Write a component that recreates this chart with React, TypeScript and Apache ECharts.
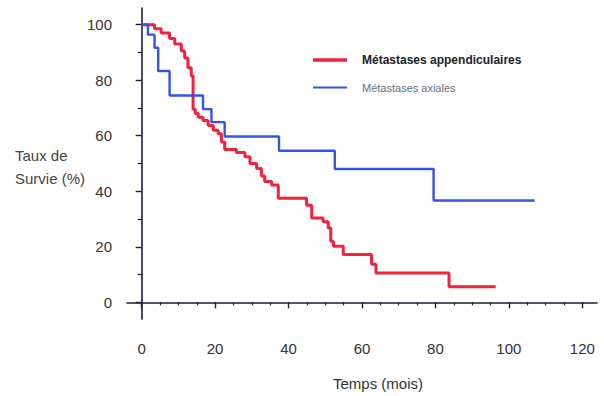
import React, { useEffect, useRef } from "react";
import * as echarts from "echarts";

// Kaplan-Meier steps: [time (mois), survival (%)] — value after each event
const appendiculaires: [number, number][] = [
  [0, 100], [3.5, 98.5], [5.3, 97], [7.6, 95], [9, 93], [10.8, 90.5], [11.7, 88],
  [12.6, 84.5], [13.5, 81.5], [14, 69.5], [14.6, 68], [15.4, 66.7], [16.7, 65.5],
  [18.1, 63.7], [19.5, 62], [20.8, 60.7], [21.7, 57.7], [22.6, 55], [25.8, 54],
  [28.1, 52.4], [29.5, 50], [31.3, 48.2], [32.6, 45.5], [33.5, 43.5], [35.4, 42.3],
  [37.2, 37.5], [44.9, 35], [46.3, 30.4], [49.4, 29], [50.8, 26.8], [51.5, 22],
  [52.2, 20.2], [54.9, 17.2], [62.6, 13.7], [63.8, 10.6], [83.7, 5.6], [96.4, 5.6],
];
const axiales: [number, number][] = [
  [0, 100], [1.7, 96.4], [3.5, 91.7], [4.5, 83.3], [7.6, 74.5], [16.7, 69.6],
  [19, 64.9], [22.6, 59.7], [37.4, 54.6], [52.6, 48], [79.5, 36.7], [107, 36.7],
];
const seriesNames = ["Métastases appendiculaires", "Métastases axiales"];
const xTicks = [0, 20, 40, 60, 80, 100, 120];
const xMinorTicks = [5, 10, 15, 25, 30, 35, 45, 50, 55, 65, 70, 75, 85, 90, 95, 105, 110, 115];
const yTicks = [0, 20, 40, 60, 80, 100];
const yMinorTicks = [10, 30, 50, 70, 90];
const xTitle = "Temps (mois)";
const yTitle = "Taux de\nSurvie (%)";

const FONT = "'Liberation Sans', Arial, sans-serif";
const AXIS_COLOR = "#1d1d38";
const RED = "#f0223c";
const BLUE = "#3553ea";

export default function App() {
  const ref = useRef<HTMLDivElement>(null);
  useEffect(() => {
    if (!ref.current) return;
    const chart = echarts.init(ref.current, null, { renderer: "svg" });
    const grid = { left: 127, right: 7, top: 8, bottom: 74 };
    const baseX = {
      type: "value" as const,
      min: -4,
      max: 124,
      splitLine: { show: false },
    };
    const baseY = {
      type: "value" as const,
      min: -6,
      max: 106,
      splitLine: { show: false },
    };
    chart.setOption({
      animation: false,
      backgroundColor: "#ffffff",
      textStyle: { fontFamily: FONT },
      grid,
      legend: {
        orient: "vertical",
        left: 308,
        top: 49,
        itemWidth: 34,
        itemHeight: 14,
        itemGap: 16,
        data: [
          {
            name: seriesNames[0],
            icon: "path://M0,0H34V3.5H0Z",
            itemStyle: { color: RED },
            textStyle: { fontSize: 12, fontWeight: "bold", color: "#222", padding: [0, 0, 0, 10] },
          },
          {
            name: seriesNames[1],
            icon: "path://M0,0H34V2.2H0Z",
            itemStyle: { color: BLUE },
            textStyle: { fontSize: 11, color: "#6a6f80", padding: [0, 0, 0, 10] },
          },
        ],
      },
      xAxis: [
        {
          ...baseX,
          name: xTitle,
          nameLocation: "middle",
          nameGap: 57,
          nameTextStyle: { fontSize: 15, color: "#333", padding: [0, 0, 0, 32], fontFamily: FONT },
          axisLine: { show: true, lineStyle: { color: AXIS_COLOR, width: 1.6 } },
          axisTick: { show: true, customValues: xTicks, length: 6, lineStyle: { color: AXIS_COLOR, width: 1.4 } },
          axisLabel: { customValues: xTicks, margin: 22, fontSize: 15, color: "#333", fontFamily: FONT },
        },
        {
          ...baseX,
          axisLine: { show: false },
          axisTick: { show: true, customValues: xMinorTicks, length: 3, lineStyle: { color: AXIS_COLOR, width: 1.2 } },
          axisLabel: { show: false },
          position: "bottom",
        },
      ],
      yAxis: [
        {
          ...baseY,
          axisLine: { show: true, lineStyle: { color: AXIS_COLOR, width: 1.6 } },
          axisTick: { show: true, customValues: yTicks, length: 6, lineStyle: { color: AXIS_COLOR, width: 1.4 } },
          axisLabel: { customValues: yTicks, margin: 15, fontSize: 15, color: "#333", fontFamily: FONT },
        },
        {
          ...baseY,
          position: "left",
          axisLine: { show: false },
          axisTick: { show: true, customValues: yMinorTicks, length: 4, lineStyle: { color: AXIS_COLOR, width: 1.2 } },
          axisLabel: { show: false },
        },
      ],
      graphic: [
        {
          type: "text",
          left: 15,
          top: 144,
          style: {
            text: yTitle,
            fontSize: 15,
            lineHeight: 23,
            fill: "#444",
            fontFamily: FONT,
          },
        },
      ],
      series: [
        {
          name: seriesNames[0],
          type: "line",
          step: "end",
          data: appendiculaires,
          symbol: "none",
          lineStyle: { color: RED, width: 3 },
          itemStyle: { color: RED },
          z: 2,
        },
        {
          name: seriesNames[1],
          type: "line",
          step: "end",
          data: axiales,
          symbol: "none",
          lineStyle: { color: BLUE, width: 2.4 },
          itemStyle: { color: BLUE },
          z: 3,
        },
      ],
    });
    return () => chart.dispose();
  }, []);
  return (
    <div
      ref={ref}
      style={{ position: "fixed", left: 0, top: 0, width: 604, height: 396, background: "#fff" }}
    />
  );
}
